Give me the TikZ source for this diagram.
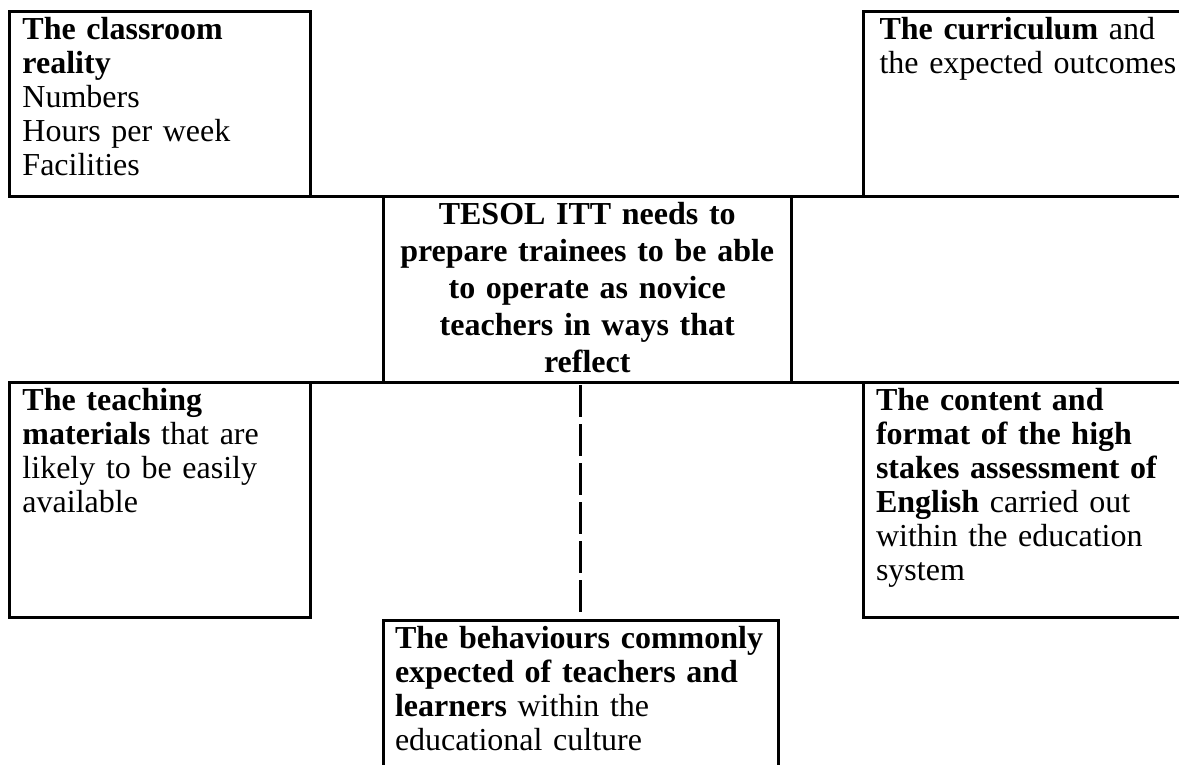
\documentclass[tikz,border=0pt]{standalone}
\usepackage{fontspec}
\setmainfont{Liberation Serif}
\usepackage{tikz}
\usetikzlibrary{positioning,calc}

\newcommand{\cellfont}{\fontsize{32}{34}\selectfont}

\begin{document}
\begin{tikzpicture}[x=1pt,y=-1pt,
                       cell node/.style={rectangle,draw,line width=3pt,outer sep=0pt,
                                         anchor=north west,align=left,font=\cellfont,
                                         inner xsep=13pt,inner ysep=6pt,text height=22pt},
                       rule line/.style={line width=3pt},
                       link line/.style={line width=3pt,dash pattern=on 32pt off 7pt,
                                         shorten <=2.5pt,shorten >=8pt}
                      ]
   \useasboundingbox (0,0) rectangle (1179,764);
   \node[cell node,text width=275pt,text depth=151pt] (reality) at (9.5,11.5)
        {\textbf{The classroom}\\ \textbf{reality}\\ Numbers\\ Hours per week\\ Facilities};
   \node[cell node,text width=298pt,text depth=151pt,inner xsep=16pt] (curriculum) at (863.5,11.5)
        {\textbf{The curriculum} and\\ the expected outcomes};
   \node[cell node,text width=382.5pt,text depth=152pt,align=center,
         font={\fontsize{32}{37}\selectfont\bfseries}] (centre) at (383,196.5)
        {TESOL ITT needs to\\ prepare trainees to be able\\ to operate as novice\\ teachers in ways that\\ reflect};
   \node[cell node,text width=275pt,text depth=201pt] (materials) at (9.5,382.5)
        {\textbf{The teaching}\\ \textbf{materials} that are\\ likely to be easily\\ available};
   \node[cell node,text width=304pt,text depth=201pt] (assessment) at (863,382.5)
        {\textbf{The content and}\\ \textbf{format of the high}\\ \textbf{stakes assessment of}\\ \textbf{English} carried out\\ within the education\\ system};
   \node[cell node,text width=371pt,text depth=136pt,inner xsep=12pt] (behaviours) at (383,620.5)
        {\textbf{The behaviours commonly}\\ \textbf{expected of teachers and}\\ \textbf{learners} within the\\ educational culture};

   \draw[rule line] (reality.south east) -- (centre.north west);
   \draw[rule line] (centre.north east) -- (curriculum.south west);
   \draw[rule line] (materials.north east) -- (centre.south west);
   \draw[rule line] (centre.south east) -- (assessment.north west);
   \draw[link line] (centre.south -| behaviours.north) -- (behaviours.north);
 \end{tikzpicture}
\end{document}
